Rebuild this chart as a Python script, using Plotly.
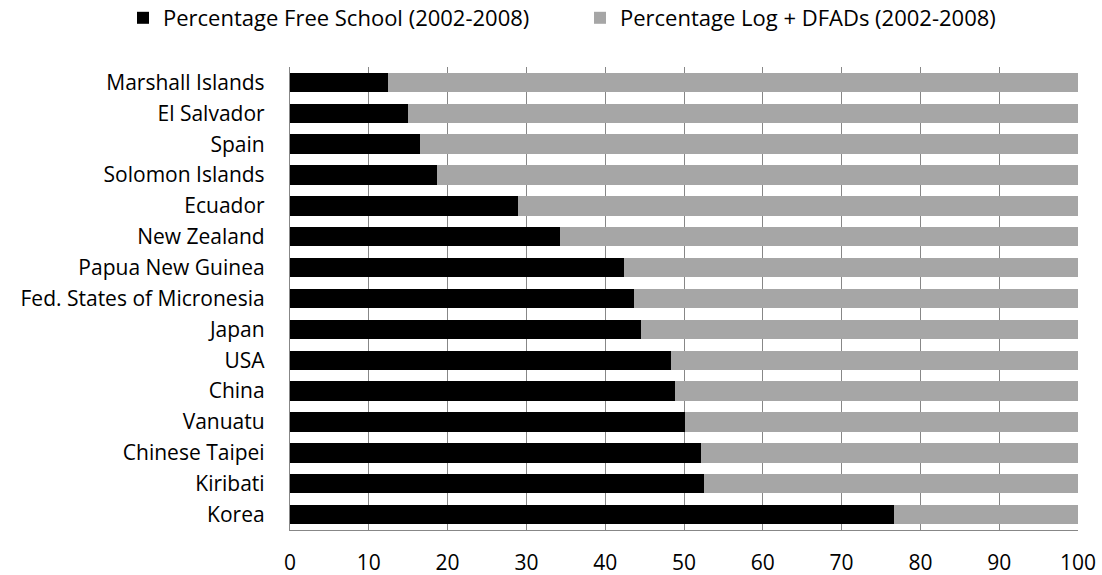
import plotly.graph_objects as go

countries = ["Marshall Islands", "El Salvador", "Spain", "Solomon Islands", "Ecuador",
             "New Zealand", "Papua New Guinea", "Fed. States of Micronesia", "Japan", "USA",
             "China", "Vanuatu", "Chinese Taipei", "Kiribati", "Korea"]
free_school = [12.4, 15.0, 16.5, 18.6, 28.9, 34.3, 42.4, 43.7, 44.6, 48.4, 48.9, 50.1, 52.2, 52.6, 76.7]
log_dfads = [round(100 - v, 1) for v in free_school]
x_ticks = [0, 10, 20, 30, 40, 50, 60, 70, 80, 90, 100]

font_family = "Open Sans"
FS = 21

fig = go.Figure()
fig.add_trace(go.Bar(y=countries, x=free_school, orientation="h",
                     name="Percentage Free School (2002-2008)",
                     marker=dict(color="#000000", line=dict(width=0)),
                     legend="legend"))
fig.add_trace(go.Bar(y=countries, x=log_dfads, orientation="h",
                     name="Percentage Log + DFADs (2002-2008)",
                     marker=dict(color="#A6A6A6", line=dict(width=0)),
                     legend="legend2"))

leg_common = dict(orientation="h", xref="container", yref="container",
                  yanchor="middle", xanchor="left", font=dict(size=22),
                  bgcolor="rgba(0,0,0,0)")

fig.update_layout(
    barmode="stack",
    bargap=0.37,
    width=1102, height=575,
    margin=dict(l=290, r=24, t=67, b=45),
    plot_bgcolor="white", paper_bgcolor="white",
    font=dict(family=font_family, size=FS, color="#000000"),
    showlegend=True,
    legend=dict(x=123 / 1102, y=1 - 18 / 575, **leg_common),
    legend2=dict(x=580 / 1102, y=1 - 18 / 575, **leg_common),
    xaxis=dict(range=[0, 100], tickvals=x_ticks, showgrid=True, gridcolor="#878787",
               gridwidth=1.3, showline=True, linecolor="#878787", linewidth=1.3,
               ticks="", tickfont=dict(size=FS), zeroline=False,
               ticklabelstandoff=14, automargin=False),
    yaxis=dict(autorange="reversed", showline=True, linecolor="#878787", linewidth=1.3,
               ticks="", tickfont=dict(size=FS), showgrid=False,
               ticklabelstandoff=20, automargin=False),
)

fig.write_html("out.html", config={"displayModeBar": False},
               post_script="document.body.style.margin='0';")
